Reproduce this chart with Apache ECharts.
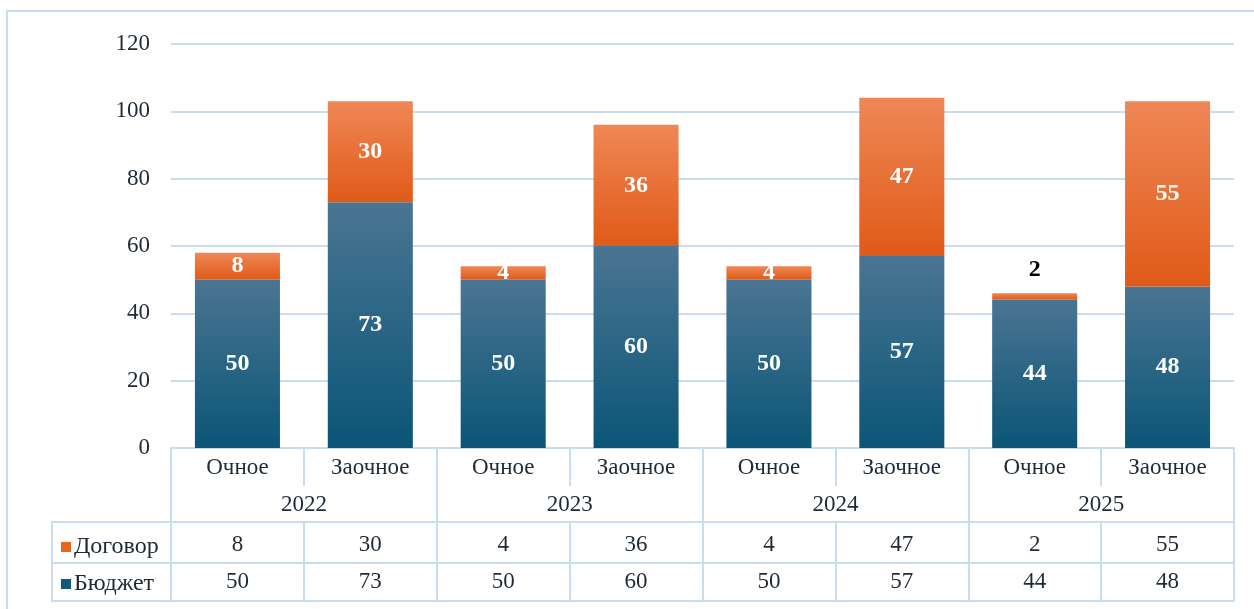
<!DOCTYPE html>
<html>
<head>
<meta charset="utf-8">
<script src="https://cdn.jsdelivr.net/npm/echarts@6/dist/echarts.min.js"></script>
<style>
  html, body { margin: 0; padding: 0; background: #fff; }
  #chart { width: 1254px; height: 609px; }
</style>
</head>
<body>
<div id="chart"></div>
<script>
const forms = ['Очное', 'Заочное', 'Очное', 'Заочное', 'Очное', 'Заочное', 'Очное', 'Заочное']
const years = ['2022', '2023', '2024', '2025']
const budget = [50, 73, 50, 60, 50, 57, 44, 48]
const contract = [8, 30, 4, 36, 4, 47, 2, 55]
const yTicks = [0, 20, 40, 60, 80, 100, 120]

const FONT = '"Liberation Serif", "Times New Roman", serif'
const LINE = '#c9ddf2'
const TEXT = '#1f2a36'
const ORANGE = '#e9651f'
const BLUE = '#125a7c'
const FS = 23

function grad(top, bottom) {
  return {
    type: 'linear', x: 0, y: 0, x2: 0, y2: 1,
    colorStops: [{ offset: 0, color: top }, { offset: 1, color: bottom }],
  }
}

const chart = echarts.init(document.getElementById('chart'), null, { renderer: 'canvas' })

const valueLabel = {
  show: true,
  position: 'inside',
  color: '#fff',
  fontFamily: FONT,
  fontSize: 24,
  fontWeight: 'bold',
}

chart.setOption({
  animation: false,
  textStyle: { fontFamily: FONT },
  grid: { left: 171, right: 20, top: 44, bottom: 161, outerBoundsMode: 'none' },
  legend: {
    orient: 'vertical',
    left: 61,
    top: 535,
    padding: 0,
    itemWidth: 10,
    itemHeight: 10,
    itemGap: 13,
    icon: 'rect',
    textStyle: { fontFamily: FONT, fontSize: 24, color: TEXT, lineHeight: 20, padding: [0, 0, 0, -2] },
    data: [
      { name: 'Договор', itemStyle: { color: ORANGE } },
      { name: 'Бюджет', itemStyle: { color: BLUE } },
    ],
  },
  yAxis: {
    type: 'value',
    min: 0,
    max: yTicks[yTicks.length - 1],
    interval: 20,
    axisLine: { show: false },
    axisTick: { show: false },
    axisLabel: { color: TEXT, fontSize: FS, margin: 21, fontFamily: FONT },
    splitLine: { lineStyle: { color: LINE, width: 2 } },
  },
  xAxis: [
    {
      type: 'category',
      data: forms,
      position: 'bottom',
      axisLine: { lineStyle: { color: LINE, width: 2 } },
      axisTick: { show: true, interval: 0, length: 38, lineStyle: { color: LINE, width: 2 } },
      axisLabel: { color: TEXT, fontSize: FS, margin: 8.5, interval: 0, fontFamily: FONT },
    },
    {
      type: 'category',
      data: years,
      position: 'bottom',
      offset: 0,
      axisLine: { show: false },
      axisTick: { show: true, interval: 0, length: 153, lineStyle: { color: LINE, width: 2 } },
      axisLabel: { color: TEXT, fontSize: FS, margin: 45.5, interval: 0, fontFamily: FONT },
    },
    {
      type: 'category',
      data: contract.map(String),
      position: 'bottom',
      offset: 74,
      axisLine: { lineStyle: { color: LINE, width: 2 } },
      axisTick: { show: true, interval: 0, length: 79, lineStyle: { color: LINE, width: 2 } },
      axisLabel: { color: TEXT, fontSize: FS, margin: 11.5, interval: 0, fontFamily: FONT },
    },
    {
      type: 'category',
      data: budget.map(String),
      position: 'bottom',
      offset: 115,
      axisLine: { lineStyle: { color: LINE, width: 2 } },
      axisTick: { show: false },
      axisLabel: { color: TEXT, fontSize: FS, margin: 7.5, interval: 0, fontFamily: FONT },
    },
  ],
  series: [
    {
      name: 'Бюджет',
      type: 'bar',
      stack: 'total',
      barWidth: '64%',
      data: budget,
      itemStyle: { color: grad('#4a7592', '#0b5577') },
      label: valueLabel,
    },
    {
      name: 'Договор',
      type: 'bar',
      stack: 'total',
      barWidth: '64%',
      data: contract.map(v => v < 3
        ? { value: v, label: { position: 'top', distance: 11, color: '#000' } }
        : v),
      itemStyle: { color: grad('#ef8756', '#e05a18') },
      label: valueLabel,
    },
  ],
  graphic: [
    {
      type: 'rect',
      shape: { x: 7, y: 11, width: 1300, height: 700 },
      style: { fill: null, stroke: LINE, lineWidth: 2 },
      silent: true,
    },
    {
      type: 'polyline',
      shape: { points: [[171, 522], [52, 522], [52, 601], [1234, 601]] },
      style: { fill: null, stroke: LINE, lineWidth: 2 },
      silent: true,
    },
    {
      type: 'line',
      shape: { x1: 52, y1: 563, x2: 171, y2: 563 },
      style: { stroke: LINE, lineWidth: 2 },
      silent: true,
    },
  ],
})
</script>
</body>
</html>
